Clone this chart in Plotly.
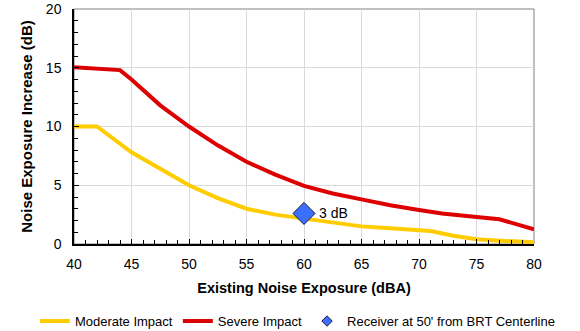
import plotly.graph_objects as go

mod_x = [40, 42, 45, 47.5, 50, 52.5, 55, 57.5, 60, 62.5, 65, 67.5, 70, 71, 73, 75, 77, 80]
mod_y = [10.0, 10.0, 7.8, 6.4, 5.0, 3.9, 3.0, 2.5, 2.15, 1.8, 1.5, 1.35, 1.2, 1.1, 0.7, 0.4, 0.28, 0.15]

sev_x = [40, 44, 45, 47.5, 50, 52.5, 55, 57.5, 60, 62.5, 65, 67.5, 70, 72, 75, 77, 80]
sev_y = [15.05, 14.8, 14.0, 11.8, 10.0, 8.4, 7.0, 5.9, 4.95, 4.3, 3.8, 3.3, 2.9, 2.6, 2.3, 2.1, 1.25]

rec_x = [60]
rec_y = [2.6]
rec_label = "3 dB"

x_ticks = [40, 45, 50, 55, 60, 65, 70, 75, 80]
y_ticks = [0, 5, 10, 15, 20]

font = "Liberation Sans, Arial, sans-serif"

fig = go.Figure()
fig.add_trace(go.Scatter(x=mod_x, y=mod_y, mode="lines", name="Moderate Impact",
                         line=dict(color="#FFCC00", width=4)))
fig.add_trace(go.Scatter(x=sev_x, y=sev_y, mode="lines", name="Severe Impact",
                         line=dict(color="#DD0000", width=4)))
fig.add_trace(go.Scatter(x=rec_x, y=rec_y, mode="markers", name="Receiver at 50' from BRT Centerline",
                         showlegend=False,
                         marker=dict(symbol="diamond", size=17, color="#3D6FFF",
                                     line=dict(color="#1a1a3a", width=1))))
# legend entry for the receiver (small symbol as in the reference legend)
fig.add_trace(go.Scatter(x=[None], y=[None], mode="markers", name="Receiver at 50' from BRT Centerline",
                         marker=dict(symbol="diamond", size=8, color="#3D6FFF",
                                     line=dict(color="#1a1a3a", width=1))))

fig.add_annotation(x=rec_x[0], y=rec_y[0], text=rec_label, showarrow=False,
                   xanchor="left", xshift=13, font=dict(size=14, color="black", family=font))

fig.add_shape(type="rect", xref="paper", yref="paper", x0=0, y0=0, x1=1, y1=1,
              line=dict(color="#808080", width=1), layer="below")

fig.update_layout(
    width=580, height=331,
    margin=dict(l=74, r=46, t=9, b=87, autoexpand=False),
    paper_bgcolor="white", plot_bgcolor="white",
    font=dict(family=font, size=13, color="black"),
    showlegend=True,
    legend=dict(orientation="h", x=-0.085, xanchor="left",
                y=-0.328, yanchor="middle",
                font=dict(size=13, family=font), tracegroupgap=0, bgcolor="rgba(0,0,0,0)"),
    xaxis=dict(range=[40, 80], tickvals=x_ticks, showgrid=True, gridcolor="#D9D9D9", gridwidth=1,
               showline=True, linecolor="black", linewidth=1.5,
               ticks="inside", ticklen=5, tickcolor="black", ticklabelstandoff=6,
               ticklabeloverflow="allow",
               minor=dict(dtick=1, ticks="inside", ticklen=4, tickcolor="black", showgrid=False),
               zeroline=False, automargin=False,
               title=dict(text="<b>Existing Noise Exposure (dBA)</b>", font=dict(size=14.5), standoff=12),
               tickfont=dict(size=14)),
    yaxis=dict(range=[0, 20], tickvals=y_ticks, showgrid=True, gridcolor="#D9D9D9", gridwidth=1,
               showline=True, linecolor="black", linewidth=1.5,
               ticks="inside", ticklen=5, tickcolor="black", ticklabelstandoff=8,
               ticklabeloverflow="allow",
               minor=dict(dtick=1, ticks="inside", ticklen=4, tickcolor="black", showgrid=False),
               zeroline=False, automargin=False,
               title=dict(text="<b>Noise Exposure Increase (dB)</b>", font=dict(size=15), standoff=10),
               tickfont=dict(size=14)),
)

fig.write_html("out.html", config={"displayModeBar": False},
               post_script="document.body.style.margin='0';")
